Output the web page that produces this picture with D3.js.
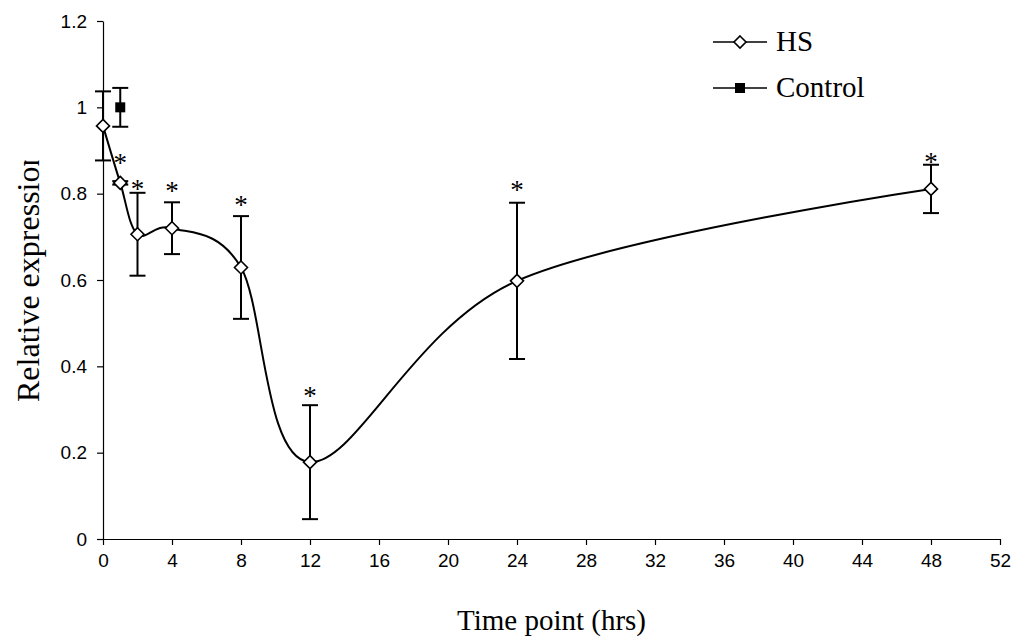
<!DOCTYPE html>
<html>
<head>
<meta charset="utf-8">
<script src="https://cdn.jsdelivr.net/npm/d3@7"></script>
<style>
  html, body { margin: 0; padding: 0; background: #fff; }
  svg { display: block; }
</style>
</head>
<body>
<svg id="chart" width="1018" height="639"></svg>
<script>
// Sampling times (hours after heat stress)
const hours = [0, 1, 2, 4, 8, 12, 24, 48];
// HS relative expression means and error (±)
const hsMean = [0.957, 0.825, 0.706, 0.720, 0.629, 0.178, 0.598, 0.811];
const hsErr  = [0.080, 0.004, 0.096, 0.060, 0.119, 0.132, 0.181, 0.056];
// Significance asterisks: level (in expression units) at which each is set
const starLevel = [null, 0.883, 0.822, 0.818, 0.785, 0.343, 0.820, 0.885];
// Control sample
const ctrlHours = [1];
const ctrlMean = [1.0];
const ctrlErr = [0.045];
// Axis ticks
const xTicks = [0, 4, 8, 12, 16, 20, 24, 28, 32, 36, 40, 44, 48, 52];
const yTicks = [0, 0.2, 0.4, 0.6, 0.8, 1, 1.2];
const seriesNames = ["HS", "Control"];

const svg = d3.select("#chart");
const plot = { left: 103, right: 1000, top: 21, bottom: 539 };

const x = d3.scaleLinear().domain([0, 52]).range([plot.left, plot.right]);
const y = d3.scaleLinear().domain([0, 1.2]).range([plot.bottom, plot.top]);

const tickFont = "'Liberation Sans', Arial, sans-serif";
const serif = "'Liberation Serif', 'Times New Roman', serif";

// X axis
const xAxis = svg.append("g")
  .attr("transform", `translate(0,${plot.bottom})`)
  .call(d3.axisBottom(x).tickValues(xTicks).tickSize(6).tickSizeOuter(0).tickPadding(9)
    .tickFormat(d3.format("d")));
// Y axis
const yAxis = svg.append("g")
  .attr("transform", `translate(${plot.left},0)`)
  .call(d3.axisLeft(y).tickValues(yTicks).tickSize(6).tickSizeOuter(0).tickPadding(10)
    .tickFormat(d => d3.format("~g")(d)));

[xAxis, yAxis].forEach(g => {
  g.select(".domain").attr("stroke", "#000").attr("stroke-width", 1.2);
  g.selectAll(".tick line").attr("stroke", "#000").attr("stroke-width", 1.2);
  g.selectAll(".tick text").attr("fill", "#000")
    .style("font-family", tickFont).style("font-size", "19px");
});

// Axis titles
svg.append("text")
  .attr("x", (plot.left + plot.right) / 2)
  .attr("y", 630)
  .attr("text-anchor", "middle")
  .attr("fill", "#000")
  .style("font-family", serif).style("font-size", "29px")
  .text("Time point (hrs)");

svg.append("clipPath").attr("id", "ytitle-clip")
  .append("rect").attr("x", 0).attr("y", 160.5).attr("width", 80).attr("height", 400);
svg.append("g").attr("clip-path", "url(#ytitle-clip)")
  .append("text")
  .attr("transform", "translate(39,402) rotate(-90)")
  .attr("text-anchor", "start")
  .attr("fill", "#000")
  .style("font-family", serif).style("font-size", "32px")
  .text("Relative expression");

const hs = hours.map((h, i) => ({ h, m: hsMean[i], e: hsErr[i], s: starLevel[i] }));
const ctrl = ctrlHours.map((h, i) => ({ h, m: ctrlMean[i], e: ctrlErr[i] }));

// Smoothed HS line
const line = d3.line()
  .x(d => x(d.h)).y(d => y(d.m))
  .curve(d3.curveCardinal.tension(0));
svg.append("path").datum(hs)
  .attr("d", line)
  .attr("fill", "none").attr("stroke", "#000").attr("stroke-width", 2);

// Error bars
function errorBars(data) {
  const g = svg.append("g").attr("stroke", "#000").attr("stroke-width", 2);
  data.forEach(d => {
    const cx = x(d.h), y1 = y(d.m + d.e), y0 = y(d.m - d.e);
    g.append("line").attr("x1", cx).attr("x2", cx).attr("y1", y1).attr("y2", y0);
    g.append("line").attr("x1", cx - 8).attr("x2", cx + 8).attr("y1", y1).attr("y2", y1);
    g.append("line").attr("x1", cx - 8).attr("x2", cx + 8).attr("y1", y0).attr("y2", y0);
  });
}
errorBars(hs);
errorBars(ctrl);

// Markers
const diamond = r => `M0,${-r}L${r},0L0,${r}L${-r},0Z`;
svg.append("g").selectAll("path").data(hs).join("path")
  .attr("transform", d => `translate(${x(d.h)},${y(d.m)})`)
  .attr("d", diamond(6.5))
  .attr("fill", "#fff").attr("stroke", "#000").attr("stroke-width", 1.6);

svg.append("g").selectAll("rect").data(ctrl).join("rect")
  .attr("x", d => x(d.h) - 5).attr("y", d => y(d.m) - 5)
  .attr("width", 10).attr("height", 10)
  .attr("fill", "#000");

// Significance asterisks
svg.append("g").selectAll("text").data(hs.filter(d => d.s != null)).join("text")
  .attr("x", d => x(d.h))
  .attr("y", d => y(d.s) + 14)
  .attr("text-anchor", "middle")
  .attr("fill", "#000")
  .style("font-family", serif).style("font-size", "27px")
  .text("*");

// Legend
const legend = svg.append("g");
const legRows = [
  { name: seriesNames[0], y: 42, type: "diamond" },
  { name: seriesNames[1], y: 88, type: "square" }
];
legRows.forEach(r => {
  legend.append("line").attr("x1", 713).attr("x2", 767).attr("y1", r.y).attr("y2", r.y)
    .attr("stroke", "#000").attr("stroke-width", 1.6);
  if (r.type === "diamond") {
    legend.append("path").attr("transform", `translate(740,${r.y})`)
      .attr("d", diamond(6)).attr("fill", "#fff").attr("stroke", "#000").attr("stroke-width", 1.6);
  } else {
    legend.append("rect").attr("x", 735).attr("y", r.y - 5).attr("width", 10).attr("height", 10)
      .attr("fill", "#000");
  }
  legend.append("text").attr("x", 776).attr("y", r.y + 9)
    .attr("fill", "#000")
    .style("font-family", serif).style("font-size", "29px")
    .text(r.name);
});
</script>
</body>
</html>
